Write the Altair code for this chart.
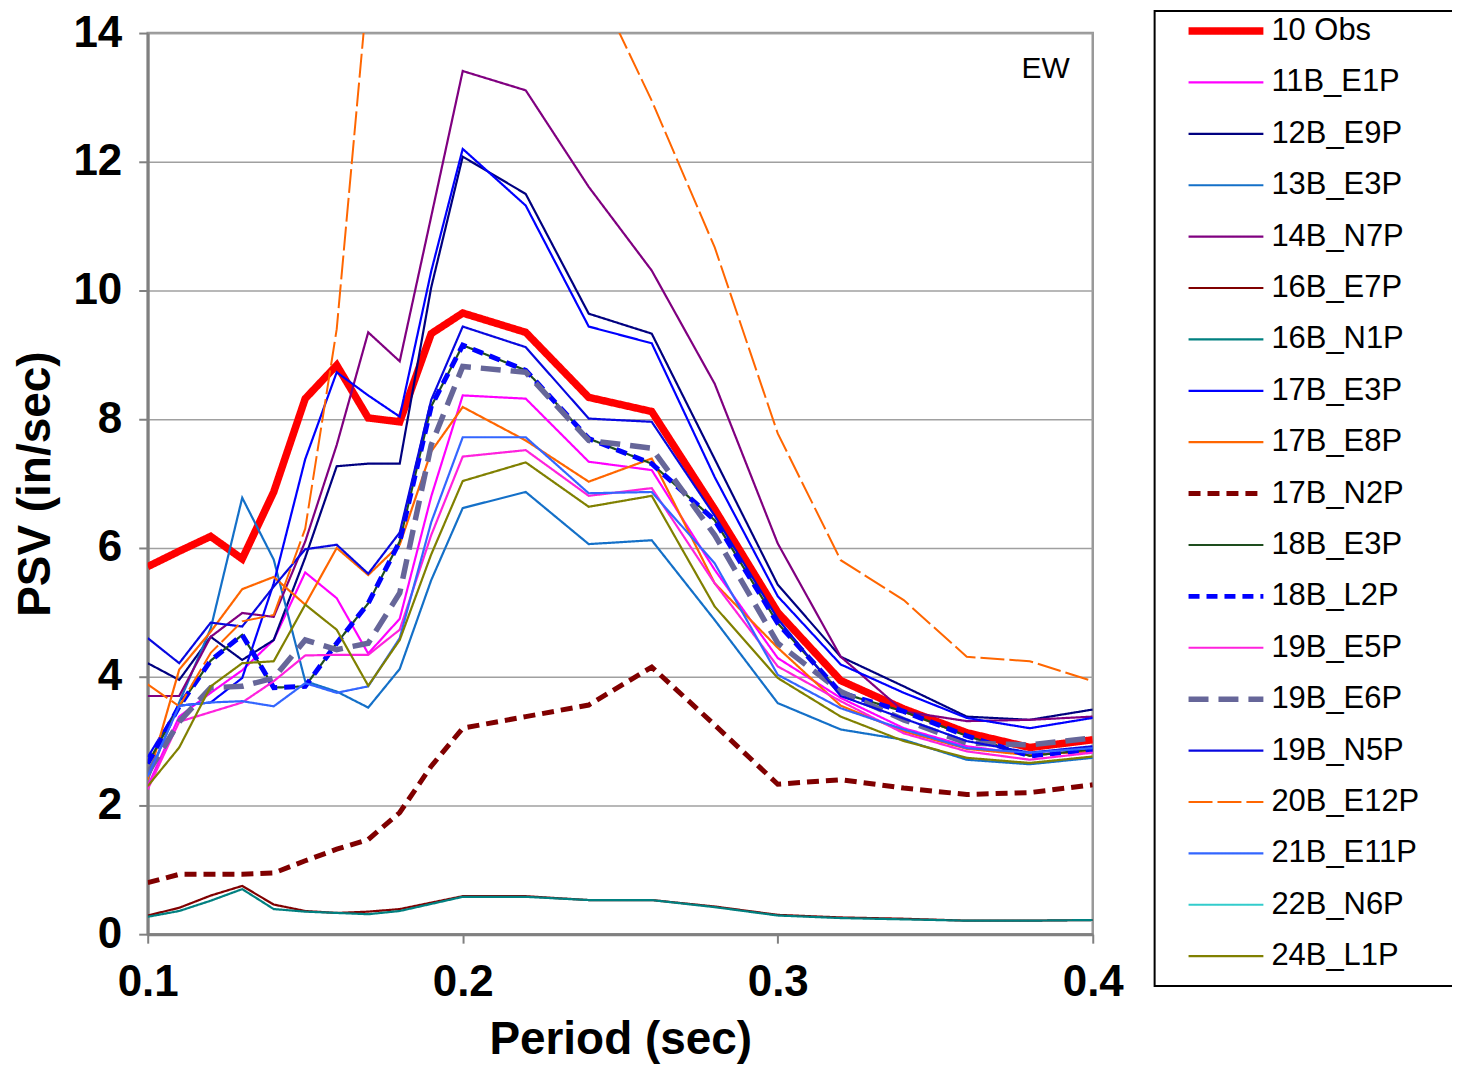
import altair as alt
import pandas as pd

periods = [0.10, 0.11, 0.12, 0.13, 0.14, 0.15, 0.16, 0.17, 0.18, 0.19, 0.20,
           0.22, 0.24, 0.26, 0.28, 0.30, 0.32, 0.34, 0.36, 0.38, 0.40]

series_names = ["10 Obs", "11B_E1P", "12B_E9P", "13B_E3P", "14B_N7P", "16B_E7P",
                "16B_N1P", "17B_E3P", "17B_E8P", "17B_N2P", "18B_E3P", "18B_L2P",
                "19B_E5P", "19B_E6P", "19B_N5P", "20B_E12P", "21B_E11P", "22B_N6P",
                "24B_L1P"]

obs_10   = [5.71, 5.95, 6.18, 5.83, 6.87, 8.32, 8.84, 8.02, 7.96, 9.33, 9.65, 9.35, 8.34, 8.12, 6.60, 5.00, 3.94, 3.50, 3.13, 2.90, 3.02]
b11_e1p  = [2.30, 3.38, 3.75, 4.10, 4.57, 5.62, 5.22, 4.36, 4.90, 6.80, 8.37, 8.32, 7.34, 7.21, 5.66, 4.29, 3.67, 3.20, 2.92, 2.79, 2.84]
b12_e9p  = [4.21, 3.95, 4.62, 4.26, 4.57, 5.85, 7.27, 7.31, 7.31, 10.05, 12.08, 11.50, 9.64, 9.33, 7.38, 5.43, 4.31, 3.85, 3.38, 3.33, 3.49]
b13_e3p  = [2.40, 3.60, 4.75, 6.78, 5.82, 3.93, 3.77, 3.52, 4.12, 5.50, 6.62, 6.87, 6.06, 6.12, 4.88, 3.59, 3.18, 3.02, 2.71, 2.64, 2.74]
b14_n7p  = [3.70, 3.70, 4.62, 4.99, 4.93, 6.10, 7.60, 9.35, 8.90, 11.15, 13.41, 13.11, 11.61, 10.31, 8.55, 6.07, 4.31, 3.46, 3.31, 3.33, 3.38]
b16_e7p  = [0.29, 0.41, 0.60, 0.75, 0.46, 0.36, 0.33, 0.35, 0.39, 0.49, 0.59, 0.59, 0.53, 0.53, 0.43, 0.30, 0.26, 0.24, 0.21, 0.21, 0.22]
b16_n1p  = [0.27, 0.36, 0.52, 0.70, 0.39, 0.35, 0.33, 0.31, 0.36, 0.47, 0.58, 0.58, 0.53, 0.53, 0.42, 0.29, 0.25, 0.23, 0.21, 0.21, 0.22]
b17_e3p  = [2.75, 3.55, 3.60, 3.98, 5.45, 7.38, 8.73, 8.37, 8.04, 10.30, 12.20, 11.32, 9.44, 9.18, 7.10, 5.25, 4.19, 3.75, 3.36, 3.20, 3.36]
b17_e8p  = [2.40, 4.11, 4.70, 5.36, 5.55, 5.12, 6.00, 5.58, 6.05, 7.50, 8.19, 7.67, 7.03, 7.39, 5.45, 4.45, 3.55, 3.15, 2.88, 2.78, 2.85]
b17_n2p  = [0.80, 0.93, 0.93, 0.93, 0.95, 1.14, 1.32, 1.47, 1.89, 2.61, 3.20, 3.38, 3.56, 4.15, 3.25, 2.33, 2.40, 2.27, 2.17, 2.20, 2.32]
b18_e3p  = [2.65, 3.54, 4.25, 4.65, 3.83, 3.85, 4.52, 5.14, 6.10, 8.20, 9.15, 8.76, 7.70, 7.31, 6.43, 4.83, 3.75, 3.46, 3.08, 2.77, 2.87]
b18_l2p  = [2.65, 3.54, 4.25, 4.65, 3.83, 3.85, 4.52, 5.14, 6.10, 8.20, 9.15, 8.76, 7.70, 7.31, 6.43, 4.83, 3.75, 3.46, 3.08, 2.77, 2.87]
b19_e5p  = [2.25, 3.30, 3.45, 3.60, 3.93, 4.33, 4.34, 4.34, 4.73, 6.20, 7.42, 7.52, 6.81, 6.93, 5.45, 4.16, 3.62, 3.12, 2.84, 2.71, 2.82]
b19_e6p  = [2.50, 3.30, 3.83, 3.85, 3.98, 4.57, 4.42, 4.52, 5.30, 7.60, 8.82, 8.73, 7.67, 7.55, 6.20, 4.52, 3.77, 3.33, 2.97, 2.94, 3.05]
b19_n5p  = [4.60, 4.21, 4.84, 4.78, 5.40, 5.98, 6.05, 5.60, 6.24, 8.30, 9.44, 9.12, 8.01, 7.96, 6.50, 4.90, 3.70, 3.35, 3.00, 2.82, 2.92]
b20_e12p = [3.88, 3.54, 4.37, 4.86, 4.96, 6.30, 9.40, 14.80, 17.00, 18.00, 18.30, 17.30, 15.00, 12.95, 10.67, 7.78, 5.81, 5.19, 4.31, 4.24, 3.93]
b21_e11p = [2.45, 3.55, 3.60, 3.62, 3.54, 3.90, 3.75, 3.85, 4.60, 6.40, 7.72, 7.72, 6.85, 6.87, 5.76, 4.03, 3.51, 3.18, 2.89, 2.82, 2.89]
b24_l1p  = [2.30, 2.90, 3.85, 4.21, 4.24, 5.12, 4.73, 3.86, 4.57, 5.90, 7.04, 7.33, 6.64, 6.81, 5.09, 3.98, 3.38, 3.00, 2.74, 2.66, 2.76]

values_by_series = {
    "10 Obs": obs_10, "11B_E1P": b11_e1p, "12B_E9P": b12_e9p, "13B_E3P": b13_e3p,
    "14B_N7P": b14_n7p, "16B_E7P": b16_e7p, "16B_N1P": b16_n1p, "17B_E3P": b17_e3p,
    "17B_E8P": b17_e8p, "17B_N2P": b17_n2p, "18B_E3P": b18_e3p, "18B_L2P": b18_l2p,
    "19B_E5P": b19_e5p, "19B_E6P": b19_e6p, "19B_N5P": b19_n5p, "20B_E12P": b20_e12p,
    "21B_E11P": b21_e11p, "24B_L1P": b24_l1p,
}

series_colors = ["#FF0000", "#FF00FF", "#000080", "#1470C8", "#800080", "#800000",
                 "#008080", "#0000FF", "#FF6600", "#800000", "#1E4D1E", "#0000FF",
                 "#FF22DD", "#666699", "#0808E0", "#FF6600", "#3366FF", "#33CCCC",
                 "#808000"]
series_dashes = [[1, 0], [1, 0], [1, 0], [1, 0], [1, 0], [1, 0],
                 [1, 0], [1, 0], [1, 0], [12, 7], [1, 0], [11, 7],
                 [1, 0], [20, 10], [1, 0], [24, 5], [1, 0], [1, 0],
                 [1, 0]]
series_widths = [7.5, 2.2, 2.2, 2.2, 2.2, 2.2, 2.2, 2.2, 2.2, 5, 2.2, 5,
                 2.2, 5.5, 2.2, 2, 2.2, 2.2, 2.2]

rows = []
for name in series_names:
    vals = values_by_series.get(name)
    if vals is None:
        continue
    for p, v in zip(periods, vals):
        rows.append({"series": name, "period": p, "psv": v})
df = pd.DataFrame(rows)
leg_df = pd.DataFrame({"series": series_names})

color_scale = alt.Scale(domain=series_names, range=series_colors)
dash_scale = alt.Scale(domain=series_names, range=series_dashes)
width_scale = alt.Scale(type="ordinal", domain=series_names, range=series_widths)

FONT = "Liberation Sans"

lines = alt.Chart(df).mark_line(clip=True).encode(
    x=alt.X("period:Q",
            scale=alt.Scale(domain=[0.1, 0.4], nice=False, zero=False),
            axis=alt.Axis(values=[0.1, 0.2, 0.3, 0.4], format=".1f",
                          title="Period (sec)", grid=False, labelFlush=False,
                          labelPadding=17, titlePadding=14)),
    y=alt.Y("psv:Q",
            scale=alt.Scale(domain=[0, 14], nice=False),
            axis=alt.Axis(values=[0, 2, 4, 6, 8, 10, 12, 14], title="PSV (in/sec)",
                          grid=True, gridColor="#a0a0a0", gridWidth=1.5,
                          labelPadding=17, titlePadding=13)),
    color=alt.Color("series:N", scale=color_scale, legend=None),
    strokeDash=alt.StrokeDash("series:N", scale=dash_scale, legend=None),
    strokeWidth=alt.StrokeWidth("series:N", scale=width_scale, legend=None),
    order="period:Q",
)

ew = alt.Chart(pd.DataFrame({"label": ["EW"]})).mark_text(
    align="right", baseline="middle", fontSize=30, font=FONT, color="black"
).encode(x=alt.value(924), y=alt.value(36), text="label:N")

legend_y = alt.Y("series:N",
                 scale=alt.Scale(type="point", domain=series_names, range=[-2, 925], padding=0),
                 axis=None)

legend_box = alt.Chart(pd.DataFrame({"k": [0]})).mark_rect(
    fillOpacity=0, stroke="black", strokeWidth=2
).encode(x=alt.value(1009), x2=alt.value(1360), y=alt.value(-22), y2=alt.value(955))

legend_lines = alt.Chart(leg_df).mark_rule().encode(
    x=alt.value(1043), x2=alt.value(1118), y=legend_y,
    color=alt.Color("series:N", scale=color_scale, legend=None),
    strokeDash=alt.StrokeDash("series:N", scale=dash_scale, legend=None),
    strokeWidth=alt.StrokeWidth("series:N", scale=width_scale, legend=None),
)

legend_text = alt.Chart(leg_df).mark_text(
    align="left", baseline="middle", fontSize=31, font=FONT, color="black"
).encode(x=alt.value(1126), y=legend_y, text="series:N")

chart = alt.layer(lines, ew, legend_box, legend_lines, legend_text).resolve_scale(
    y="independent"
).properties(
    width=947, height=903,
    autosize=alt.AutoSizeParams(type="none"),
    padding={"left": 140, "top": 24, "right": 360, "bottom": 130},
    background="white",
).configure_view(
    stroke="#999999", strokeWidth=2.5
).configure_axis(
    labelFont=FONT, labelFontSize=44, labelFontWeight="bold", labelColor="black",
    titleFont=FONT, titleFontSize=46, titleFontWeight="bold", titleColor="black",
    tickSize=9, tickColor="#808080", tickWidth=2,
    domainColor="#808080", domainWidth=3, labelOverlap=False,
)

chart.save("out.html", embed_options={"renderer": "svg", "actions": False})
